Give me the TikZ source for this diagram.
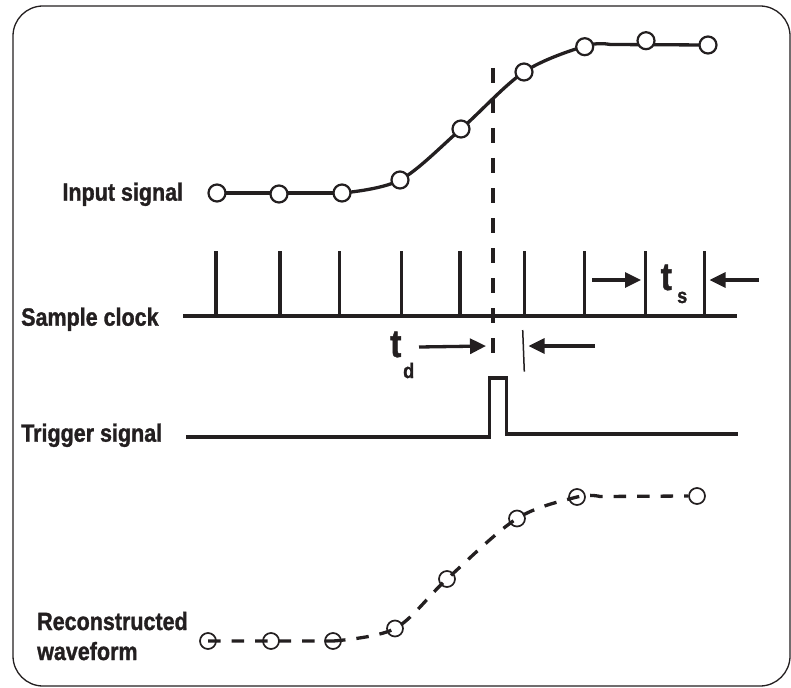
\documentclass[tikz,border=0pt]{standalone}
\usepackage{fontspec}
\newfontfamily\labfont[FakeStretch=0.86,FakeBold=1.2]{Liberation Sans}
\usetikzlibrary{arrows.meta}
\definecolor{ink}{RGB}{35,31,32}
\begin{document}
\begin{tikzpicture}[x=1pt,y=-1pt,
  lab/.style={font=\labfont\bfseries\fontsize{25}{30}\selectfont, text=ink, inner sep=0pt},
  big/.style={font=\labfont\bfseries\fontsize{39}{39}\selectfont, text=ink, inner sep=0pt},
  sub/.style={font=\labfont\bfseries\fontsize{21}{21}\selectfont, text=ink, inner sep=0pt},
  wave/.style={line width=3.3pt, draw=ink},
  samp/.style={circle, draw=ink, fill=white, line width=2.2pt, minimum size=17pt, inner sep=0pt},
  rec/.style={circle, draw=ink, line width=1.7pt, minimum size=16pt, inner sep=0pt},
  tickline/.style={line width=3.3pt, draw=ink},
  arr/.style={line width=3.3pt, draw=ink, -{Triangle[length=16pt,width=15pt]}},
]
\useasboundingbox (0,0) rectangle (791,687);
\draw[ink, line width=1.3pt, rounded corners=30pt] (13,6) rectangle (790,686);

% ---------- input signal ----------
\coordinate (p1) at (217,193);
\coordinate (p2) at (279,193);
\coordinate (p3) at (342,193);
\coordinate (p4) at (400,180);
\coordinate (p5) at (461,129);
\coordinate (p6) at (524,72);
\coordinate (p7) at (585,46);
\coordinate (p8) at (646,44.5);
\coordinate (p9) at (708,45);
\draw[wave] (p1) -- (p3);
\draw[wave] plot[smooth, tension=0.55] coordinates {(p3) (p4) (p5) (p6) (p7) (610,44.5)};
\draw[wave] (610,44.5) -- (p9);
\node[samp] (c1) at (p1) {};
\node[samp] (c2) at (279,194) {};
\node[samp] (c3) at (p3) {};
\node[samp] (c4) at (p4) {};
\node[samp] (c5) at (p5) {};
\node[samp] (c6) at (p6) {};
\node[samp] (c7) at (584.7,46.7) {};
\node[samp] (c8) at (646,40.7) {};
\node[samp] (c9) at (p9) {};
\node[lab, anchor=base east] (lin) at (183.3,200.7) {Input signal};

% ---------- trigger dashed line ----------
\draw[ink, line width=3.3pt, dash pattern=on 15pt off 15pt] (493,68) -- (493,353);

% ---------- sample clock ----------
\draw[tickline] (183,316) -- (737,316);
\foreach \x in {216,280,339.5,401.5,460,524.5,584.5,645.5,704.5}
  \draw[tickline] (\x,316) -- (\x,250.7);
\node[lab, anchor=base west] (lsc) at (21,325.7) {Sample clock};

% t_s
\coordinate (ts1) at (592,280);
\coordinate (ts2) at (641,280);
\coordinate (ts3) at (758.5,280);
\coordinate (ts4) at (709.5,280);
\draw[arr] (ts1) -- (ts2);
\draw[arr] (ts3) -- (ts4);
\node[big, anchor=base west] (tsT) at (660.5,290) {t};
\node[sub, anchor=base west] (tsS) at (677,303) {s};

% t_d
\coordinate (td1) at (419,347);
\coordinate (td2) at (486,346);
\coordinate (td3) at (595,346);
\coordinate (td4) at (528.5,346);
\draw[arr] (td1) -- (td2);
\draw[arr] (td3) -- (td4);
\draw[ink, line width=1.5pt] (522.7,330) -- (524.3,371.7);
\node[big, anchor=base west] (tdT) at (390,357) {t};
\node[sub, anchor=base west] (tdD) at (403,378) {d};

% ---------- trigger signal ----------
\draw[wave, line join=miter] (186,437) -- (489.5,437) -- (489.5,378) -- (506.5,378) -- (506.5,434) -- (738,434);
\node[lab, anchor=base west] (ltr) at (21,441.7) {Trigger signal};

% ---------- reconstructed waveform ----------
\coordinate (r1) at (208,641);
\coordinate (r2) at (271,641);
\coordinate (r3) at (333,641);
\coordinate (r4) at (395,628.5);
\coordinate (r5) at (447,579);
\coordinate (r6) at (517,518.5);
\coordinate (r7) at (577,497);
\coordinate (r8) at (697,496);
\draw[ink, line width=3.3pt, dash pattern=on 12.5pt off 11pt]
  (r1) -- (r3)
  plot[smooth, tension=0.55] coordinates {(r3) (r4) (r5) (r6) (r7) (600,496.5)}
  -- (688,496);
\foreach \i in {1,...,8} \node[rec] (rc\i) at (r\i) {};
\node[lab, anchor=base west] (lrec) at (37,630) {Reconstructed};
\node[lab, anchor=base west] (lwav) at (37,660) {waveform};
\end{tikzpicture}
\end{document}
